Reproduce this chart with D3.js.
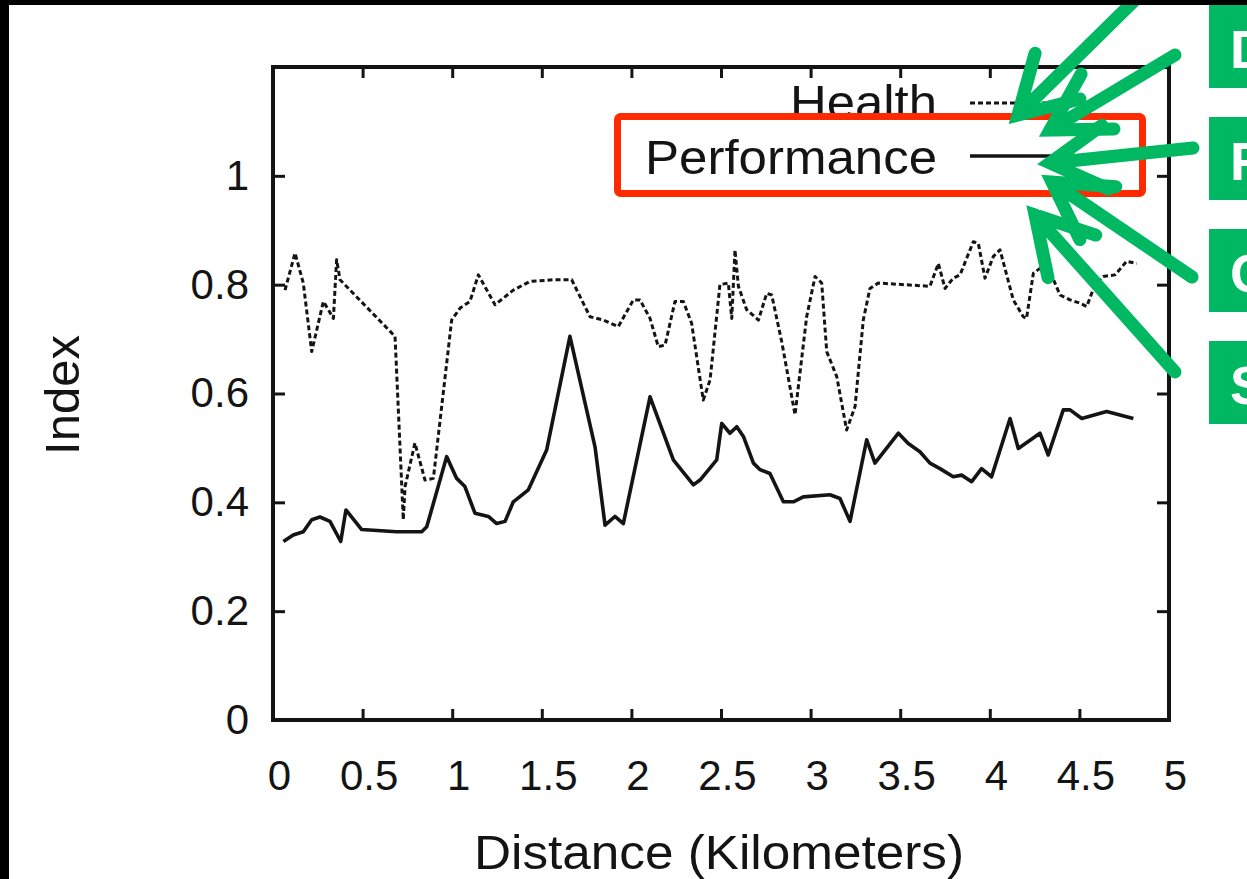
<!DOCTYPE html>
<html><head><meta charset="utf-8">
<script src="https://cdn.jsdelivr.net/npm/d3@7/dist/d3.min.js"></script>
<style>
body{margin:0;background:#fff;overflow:hidden;}
svg{display:block;font-family:"Liberation Sans",Arial,Helvetica,sans-serif;}
</style>
</head><body>
<svg id="chart" width="1247" height="879"></svg>
<script>
// ---- data ----
const xTicks = [0, 0.5, 1, 1.5, 2, 2.5, 3, 3.5, 4, 4.5, 5];
const xTickLabels = ["0", "0.5", "1", "1.5", "2", "2.5", "3", "3.5", "4", "4.5", "5"];
const yTicks = [0, 0.2, 0.4, 0.6, 0.8, 1];
const yTickLabels = ["0", "0.2", "0.4", "0.6", "0.8", "1"];
const seriesNames = ["Health", "Performance"];
const xTitle = "Distance (Kilometers)";
const yTitle = "Index";
const boxLetters = ["D", "F", "C", "S"];

const healthX = [0.067,0.123,0.169,0.216,0.281,0.309,0.337,0.355,0.374,0.681,0.727,0.737,0.792,0.848,0.895,0.997,1.044,1.099,1.146,1.239,1.341,1.434,1.564,1.667,1.769,1.843,1.927,2.011,2.048,2.104,2.150,2.188,2.243,2.290,2.336,2.401,2.439,2.494,2.541,2.560,2.578,2.597,2.643,2.709,2.755,2.783,2.839,2.913,2.978,3.025,3.062,3.090,3.146,3.201,3.248,3.294,3.331,3.378,3.666,3.713,3.750,3.796,3.834,3.908,3.936,3.973,4.020,4.057,4.131,4.187,4.205,4.243,4.280,4.336,4.392,4.448,4.503,4.541,4.587,4.633,4.699,4.764,4.820];
const healthY = [0.790,0.858,0.803,0.677,0.769,0.754,0.738,0.846,0.809,0.705,0.368,0.429,0.509,0.441,0.444,0.735,0.757,0.769,0.818,0.763,0.790,0.806,0.809,0.809,0.741,0.735,0.723,0.772,0.772,0.738,0.686,0.689,0.769,0.769,0.729,0.588,0.625,0.800,0.803,0.738,0.864,0.797,0.754,0.735,0.784,0.781,0.695,0.561,0.741,0.815,0.803,0.677,0.631,0.533,0.576,0.735,0.793,0.803,0.797,0.839,0.793,0.812,0.818,0.879,0.876,0.812,0.852,0.864,0.772,0.741,0.738,0.821,0.830,0.824,0.781,0.772,0.766,0.760,0.800,0.815,0.818,0.843,0.839];

const perfX = [0.058,0.113,0.169,0.216,0.262,0.318,0.378,0.407,0.495,0.690,0.830,0.858,0.969,1.025,1.071,1.127,1.202,1.248,1.295,1.341,1.425,1.527,1.657,1.797,1.853,1.908,1.955,2.104,2.234,2.346,2.383,2.476,2.504,2.550,2.588,2.625,2.681,2.718,2.773,2.848,2.904,2.959,3.108,3.164,3.220,3.313,3.359,3.490,3.545,3.610,3.666,3.722,3.796,3.843,3.899,3.954,4.010,4.113,4.159,4.280,4.326,4.410,4.448,4.513,4.652,4.801];
const perfY = [0.328,0.340,0.346,0.368,0.373,0.365,0.328,0.386,0.350,0.346,0.346,0.355,0.484,0.444,0.429,0.380,0.374,0.361,0.365,0.401,0.423,0.496,0.705,0.502,0.358,0.374,0.361,0.594,0.478,0.432,0.441,0.478,0.545,0.527,0.539,0.521,0.472,0.460,0.453,0.401,0.401,0.410,0.414,0.407,0.365,0.515,0.472,0.527,0.508,0.493,0.472,0.462,0.447,0.450,0.438,0.462,0.447,0.554,0.499,0.527,0.487,0.570,0.570,0.554,0.567,0.554];

// ---- layout ----
const W = 1247, H = 879;
const plot = {left: 273, right: 1169, top: 67, bottom: 720};
const ink = "#141414";
const green = "#00b862";
const red = "#ff2a00";

const svg = d3.select("#chart");
svg.append("rect").attr("width", W).attr("height", H).attr("fill", "#fff");

const x = d3.scaleLinear().domain([0, 5]).range([plot.left, plot.right]);
const y = d3.scaleLinear().domain([0, 1.2]).range([plot.bottom, plot.top]);

const fmtX = d => xTickLabels[xTicks.indexOf(d)];
const fmtY = d => yTickLabels[yTicks.indexOf(d)];

function styleAxis(g){
  g.select(".domain").remove();
  g.selectAll(".tick line").attr("stroke", ink).attr("stroke-width", 3);
  g.selectAll(".tick text").attr("fill", ink).attr("font-size", 42)
    .attr("font-family", "'Liberation Sans', Arial, sans-serif");
}

svg.append("g").attr("transform", `translate(0,${plot.bottom})`)
  .call(d3.axisBottom(x).tickValues(xTicks).tickFormat(fmtX).tickSize(-11).tickSizeOuter(0).tickPadding(40))
  .call(styleAxis)
  .call(g => g.selectAll(".tick text").attr("dx", 6));
svg.append("g").attr("transform", `translate(0,${plot.top})`)
  .call(d3.axisTop(x).tickValues(xTicks).tickFormat("").tickSize(-11).tickSizeOuter(0))
  .call(styleAxis);
svg.append("g").attr("transform", `translate(${plot.left},0)`)
  .call(d3.axisLeft(y).tickValues(yTicks).tickFormat(fmtY).tickSize(-12).tickSizeOuter(0).tickPadding(24))
  .call(styleAxis);
svg.append("g").attr("transform", `translate(${plot.right},0)`)
  .call(d3.axisRight(y).tickValues(yTicks).tickFormat("").tickSize(-12).tickSizeOuter(0))
  .call(styleAxis);

// frame
svg.append("rect")
  .attr("x", plot.left).attr("y", plot.top)
  .attr("width", plot.right - plot.left).attr("height", plot.bottom - plot.top)
  .attr("fill", "none").attr("stroke", ink).attr("stroke-width", 4);

// lines
const line = d3.line().x(d => x(d[0])).y(d => y(d[1]));
const healthData = healthX.map((v, i) => [v, healthY[i]]);
const perfData = perfX.map((v, i) => [v, perfY[i]]);

svg.append("path").datum(healthData).attr("d", line)
  .attr("fill", "none").attr("stroke", ink).attr("stroke-width", 3)
  .attr("stroke-dasharray", "5,3").attr("stroke-linejoin", "round");
svg.append("path").datum(perfData).attr("d", line)
  .attr("fill", "none").attr("stroke", ink).attr("stroke-width", 3.6)
  .attr("stroke-linejoin", "round");

// axis titles
svg.append("text").attr("x", (plot.left + plot.right) / 2 - 2).attr("y", 869)
  .attr("text-anchor", "middle").attr("font-size", 48).attr("fill", ink)
  .attr("textLength", 490).attr("lengthAdjust", "spacingAndGlyphs").text(xTitle);
svg.append("text").attr("transform", "translate(79,395) rotate(-90)")
  .attr("text-anchor", "middle").attr("font-size", 48).attr("fill", ink)
  .attr("textLength", 120).attr("lengthAdjust", "spacingAndGlyphs").text(yTitle);

// legend
const legend = [
  {name: seriesNames[0], ty: 119, ly: 103, dash: "5,3", w: 3, len: 147},
  {name: seriesNames[1], ty: 174, ly: 156, dash: null, w: 3.6, len: 292}
];
legend.forEach(l => {
  svg.append("text").attr("x", 937 - l.len).attr("y", l.ty)
    .attr("font-size", 48).attr("fill", ink)
    .attr("textLength", l.len).attr("lengthAdjust", "spacingAndGlyphs").text(l.name);
  svg.append("line").attr("x1", 970).attr("x2", 1062).attr("y1", l.ly).attr("y2", l.ly)
    .attr("stroke", ink).attr("stroke-width", l.w).attr("stroke-dasharray", l.dash);
});

// red highlight box
svg.append("rect").attr("x", 617.5).attr("y", 116.5).attr("width", 525).attr("height", 77)
  .attr("rx", 3).attr("fill", "none").attr("stroke", red).attr("stroke-width", 7);

// green annotation arrows (start -> tip, in pixels)
const arrows = [
  {sx: 1140, sy: -5, tx: 1018, ty: 115},
  {sx: 1175, sy: 55, tx: 1050, ty: 130},
  {sx: 1193, sy: 148, tx: 1050, ty: 163},
  {sx: 1192, sy: 277, tx: 1052, ty: 182},
  {sx: 1175, sy: 372, tx: 1035, ty: 215}
];
const barb = 64, half = Math.PI / 6;
arrows.forEach(a => {
  const ang = Math.atan2(a.sy - a.ty, a.sx - a.tx);
  const b1 = [a.tx + barb * Math.cos(ang + half), a.ty + barb * Math.sin(ang + half)];
  const b2 = [a.tx + barb * Math.cos(ang - half), a.ty + barb * Math.sin(ang - half)];
  const p = d3.path();
  p.moveTo(a.sx, a.sy); p.lineTo(a.tx, a.ty);
  p.moveTo(b1[0], b1[1]); p.lineTo(a.tx, a.ty); p.lineTo(b2[0], b2[1]);
  svg.append("path").attr("d", p.toString()).attr("fill", "none")
    .attr("stroke", green).attr("stroke-width", 13)
    .attr("stroke-linecap", "round").attr("stroke-linejoin", "miter");
});

// green label boxes on the right edge (letters run off the page edge, as in the reference)
boxLetters.forEach((t, i) => {
  const by = 5 + i * 112;
  svg.append("rect").attr("x", 1209).attr("y", by).attr("width", 60).attr("height", 83).attr("fill", green);
  svg.append("text").attr("x", 1230).attr("y", by + 63).attr("font-size", 54)
    .attr("font-weight", "bold").attr("fill", "#fff").text(t);
});

// black screenshot borders
svg.append("rect").attr("x", 0).attr("y", 0).attr("width", W).attr("height", 5).attr("fill", "#000");
svg.append("rect").attr("x", 0).attr("y", 0).attr("width", 9).attr("height", H).attr("fill", "#000");
</script>
</body></html>
